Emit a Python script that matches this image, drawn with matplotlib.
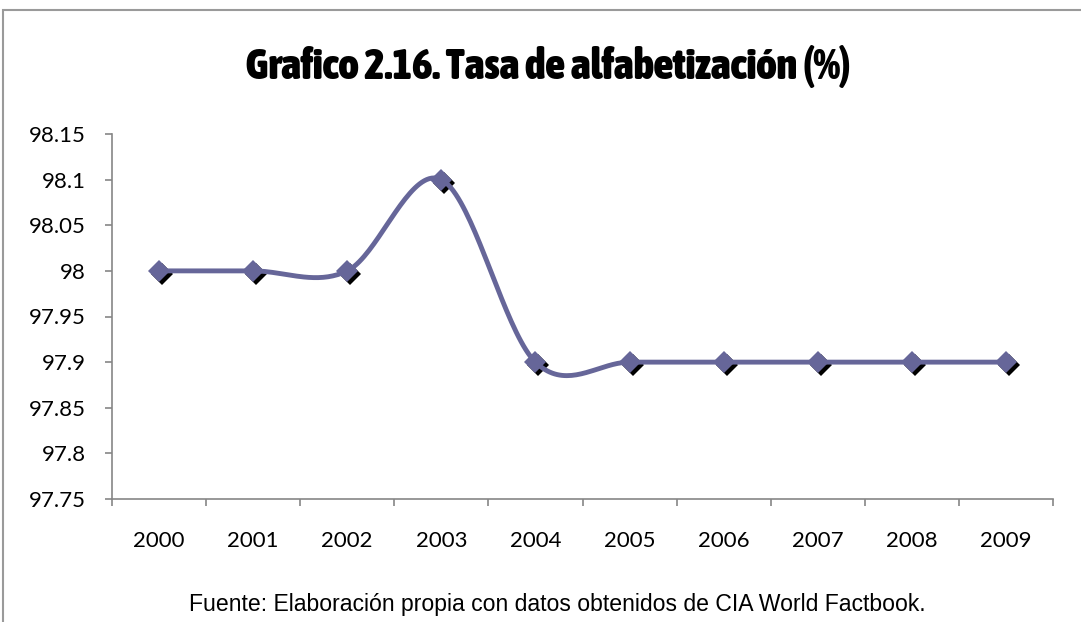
import numpy as np
import matplotlib
matplotlib.use("Agg")
import matplotlib.pyplot as plt
import matplotlib.transforms as mtransforms
from matplotlib.patches import Rectangle
from matplotlib import font_manager as fm

years = ["2000", "2001", "2002", "2003", "2004", "2005", "2006", "2007", "2008", "2009"]
values = [98.0, 98.0, 98.0, 98.1, 97.9, 97.9, 97.9, 97.9, 97.9, 97.9]
yticks = [97.75, 97.8, 97.85, 97.9, 97.95, 98.0, 98.05, 98.1, 98.15]
ytick_labels = ["97.75", "97.8", "97.85", "97.9", "97.95", "98", "98.05", "98.1", "98.15"]
title = "Grafico 2.16. Tasa de alfabetización (%)"
source = "Fuente: Elaboración propia con datos obtenidos de CIA World Factbook."

LINE = "#666699"
AX_GRAY = "#868686"


def smooth(xs, ys, n=40):
    xs = np.asarray(xs, float)
    ys = np.asarray(ys, float)
    px = np.concatenate([[xs[0]], xs, [xs[-1]]])
    py = np.concatenate([[ys[0]], ys, [ys[-1]]])
    outx, outy = [], []
    t = np.linspace(0, 1, n)
    for i in range(1, len(px) - 2):
        p0x, p1x, p2x, p3x = px[i - 1], px[i], px[i + 1], px[i + 2]
        p0y, p1y, p2y, p3y = py[i - 1], py[i], py[i + 1], py[i + 2]
        c1x, c1y = p1x + (p2x - p0x) / 6, p1y + (p2y - p0y) / 6
        c2x, c2y = p2x - (p3x - p1x) / 6, p2y - (p3y - p1y) / 6
        bx = (1 - t) ** 3 * p1x + 3 * (1 - t) ** 2 * t * c1x + 3 * (1 - t) * t ** 2 * c2x + t ** 3 * p2x
        by = (1 - t) ** 3 * p1y + 3 * (1 - t) ** 2 * t * c1y + 3 * (1 - t) * t ** 2 * c2y + t ** 3 * p2y
        outx.extend(bx)
        outy.extend(by)
    return np.array(outx), np.array(outy)


def pick_title_font():
    cands = []
    order = ["ultra-condensed", "extra-condensed", "condensed", "semi-condensed"]
    for f in fm.fontManager.ttflist:
        name = f.name.lower()
        fname = f.fname.lower()
        w = f.weight if isinstance(f.weight, int) else fm.weight_dict.get(f.weight, 400)
        if w < 600 or "italic" in f.style or "oblique" in f.style:
            continue
        if "mono" in name or "serif" in name and "sans" not in name:
            continue
        narrow = ("narrow" in name or "condensed" in name or "narrow" in fname
                  or "condensed" in fname or f.stretch in order)
        if narrow:
            rank = order.index(f.stretch) if f.stretch in order else 2
            cands.append((rank, -w, f.fname))
    if cands:
        cands.sort()
        return fm.FontProperties(fname=cands[0][2])
    return fm.FontProperties(family="DejaVu Sans", weight="bold")


fig = plt.figure(figsize=(10.81, 6.22), dpi=100)
fig.patch.set_facecolor("white")

# chart frame
fig.add_artist(Rectangle((3 / 1081, -0.1), 1.2, (622 - 10) / 622 + 0.1,
                         transform=fig.transFigure, fill=False,
                         edgecolor="#9a9a9a", linewidth=1.5))

ax = fig.add_axes([112 / 1081, 1 - 499 / 622, (1053 - 112) / 1081, (499 - 134) / 622])
x = np.arange(len(years))
sx, sy = smooth(x, values)
ax.plot(sx, sy, color=LINE, linewidth=3.5, solid_capstyle="round", zorder=3)

shadow = mtransforms.offset_copy(ax.transData, fig=fig, x=3, y=-3, units="dots")
ax.plot(x, values, linestyle="none", marker="D", markersize=11.5, color="black",
        markeredgewidth=0, transform=shadow, zorder=2)
ax.plot(x, values, linestyle="none", marker="D", markersize=11.5, color=LINE,
        markeredgewidth=0, zorder=4)

ax.set_xlim(-0.5, len(years) - 0.5)
ax.set_ylim(97.75, 98.15)
ax.set_yticks(yticks)
ax.set_yticklabels(ytick_labels, fontfamily="Lato", fontsize=16)
ax.set_xticks(x)
ax.set_xticklabels(years, fontfamily="Lato", fontsize=16)
ax.set_xticks(np.arange(-0.5, len(years)), minor=True)
ax.tick_params(axis="x", which="major", length=0, pad=23)
ax.tick_params(axis="x", which="minor", length=5, color=AX_GRAY, width=1.2, direction="out")
ax.tick_params(axis="y", which="major", length=5, color=AX_GRAY, width=1.2, pad=14)
for side in ["top", "right"]:
    ax.spines[side].set_visible(False)
for side in ["left", "bottom"]:
    ax.spines[side].set_color(AX_GRAY)
    ax.spines[side].set_linewidth(1.2)

tfp = pick_title_font()
ttl = fig.text(548 / 1081, 1 - 67 / 622, title, ha="center", va="center",
               fontproperties=tfp, fontsize=30)
renderer = fig.canvas.get_renderer()
wpx = ttl.get_window_extent(renderer).width
size = 30 * 605 / wpx
size = min(size, 36)
ttl.set_fontsize(size)

fig.text(557 / 1081, 1 - 605 / 622, source, ha="center", va="center",
         fontfamily="Liberation Sans", fontsize=16.6)

fig.savefig("out.png", dpi=100, facecolor="white")
